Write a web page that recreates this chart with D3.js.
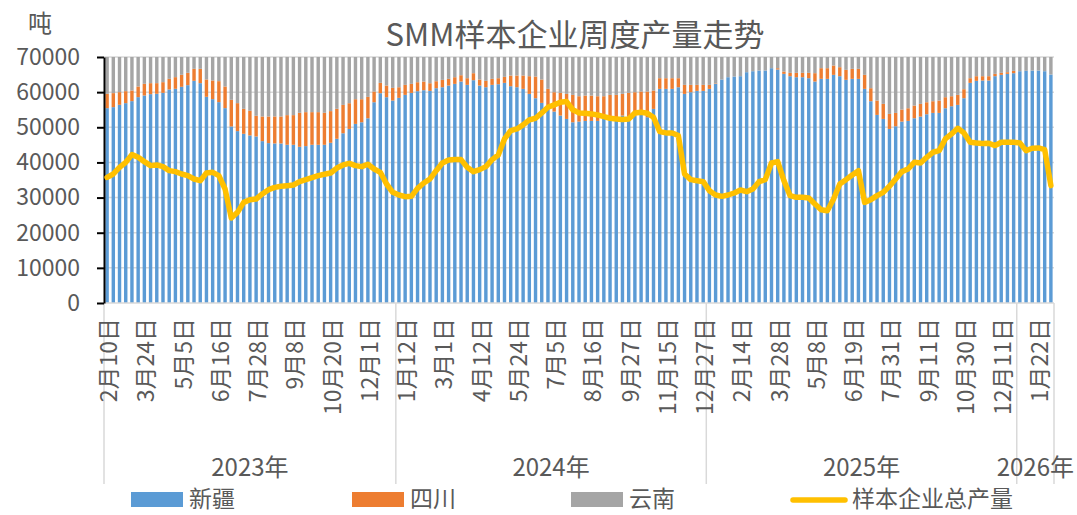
<!DOCTYPE html>
<html>
<head>
<meta charset="utf-8">
<script src="https://cdn.jsdelivr.net/npm/d3@7"></script>
<style>
  body { margin: 0; background: #fff; }
  svg text { font-family: "Noto Sans CJK SC", "Noto Sans", sans-serif; fill: #595959; }
</style>
</head>
<body>
<svg id="chart" width="1077" height="515"></svg>
<script>
// weekly values, tonnes
const xinjiang = [
  55450, 55730, 56400, 56870, 57440, 58580, 59050, 59430, 59530, 59810,
  60760, 60950, 61520, 61990, 63220, 62560, 58670, 58010, 57160, 55450,
  50240, 48910, 48150, 47680, 47390, 46060, 45500, 45400, 45400, 45020,
  45020, 44450, 44640, 45020, 45020, 45020, 45590, 46730, 48300, 49530,
  50960, 51430, 52570, 57130, 59700, 58560, 57610, 58370, 59220, 59790,
  60270, 60550, 60360, 61120, 61400, 61880, 62350, 63020, 62070, 63400,
  61880, 61400, 62070, 62260, 62640, 61690, 61400, 60930, 59500, 58270,
  56940, 55710, 54470, 53330, 52380, 51430, 51620, 51810, 51810, 51810,
  52380, 52380, 52380, 53330, 53140, 53330, 53810, 52860, 55230, 60930,
  60930, 60930, 61400, 59500, 59980, 60360, 60360, 60930, 62350, 63590,
  64250, 64440, 64540, 65680, 65960, 66150, 66150, 66820, 66440, 65200,
  64540, 64250, 64250, 63970, 63020, 63780, 63780, 64920, 64540, 63500,
  63780, 63780, 60930, 57420, 53520, 52380, 49530, 50290, 51620, 51810,
  52570, 53050, 53710, 54090, 54090, 55420, 55990, 56370, 58270, 62640,
  63210, 63310, 63310, 64540, 64920, 65200, 65390, 65960, 66060, 66150,
  66150, 65960, 65010
];
const sichuan = [
  4080, 3990, 3600, 3410, 3030, 3030, 3320, 3130, 3030, 3030,
  3030, 3320, 3410, 3510, 3420, 4080, 4930, 5310, 5970, 6160,
  7580, 7960, 7110, 7010, 5880, 7020, 7580, 7680, 7680, 8440,
  8440, 9670, 9670, 9290, 9290, 9100, 9010, 8530, 8070, 7320,
  7030, 6560, 6080, 3040, 2940, 3320, 3600, 3030, 2850, 2560,
  2560, 2470, 2180, 1990, 2090, 1900, 1900, 1800, 1900, 1990,
  1710, 1810, 1710, 1710, 1710, 3040, 3330, 3800, 5040, 6170,
  6650, 5220, 5510, 6460, 7130, 7790, 7220, 7220, 7220, 7030,
  6460, 6840, 6840, 6180, 6650, 6650, 6360, 7310, 5230, 3040,
  3040, 3040, 2570, 2570, 2090, 1710, 1710, 1140, 150, 0,
  0, 0, 0, 0, 0, 0, 0, 0, 380, 670,
  950, 1240, 1240, 1520, 2380, 3040, 3040, 2660, 2560, 2840,
  2850, 2850, 3990, 3700, 4090, 4280, 4280, 3800, 3420, 3610,
  3610, 3610, 3420, 3330, 3520, 3140, 2850, 2850, 2570, 1330,
  1330, 1230, 1230, 660, 570, 480, 670, 0, 0, 0,
  0, 0, 0
];
// top of the stack runs past the 70000 axis maximum and is cut off there
const yunnan = [
  20500, 20400, 20300, 20200, 20100, 20000, 19900, 19800, 19800, 19700,
  19600, 19600, 19500, 19500, 19400, 19400, 19300, 19300, 19200, 19200,
  19100, 19100, 19000, 19000, 19000, 18900, 18900, 18900, 18800, 18800,
  18800, 18700, 18700, 18700, 18600, 18600, 18600, 18500, 18500, 18500,
  18400, 18400, 18400, 18300, 18300, 18300, 18200, 18200, 18200, 18100,
  18100, 18100, 18000, 18000, 18000, 18000, 17900, 17900, 17900, 17900,
  17800, 17800, 17800, 17800, 17700, 17700, 17700, 17700, 17600, 17600,
  17600, 17600, 17500, 17500, 17500, 17500, 17500, 17400, 17400, 17400,
  17400, 17400, 17300, 17300, 17300, 17300, 17300, 17200, 17200, 17200,
  17200, 17200, 17100, 17100, 17100, 17100, 17100, 17000, 17000, 17000,
  17000, 17000, 17000, 16900, 16900, 16900, 16900, 16900, 16900, 16800,
  16800, 16800, 16800, 16800, 16800, 16700, 16700, 16700, 16700, 16700,
  16700, 16600, 16600, 16600, 16600, 16600, 16600, 16500, 16500, 16500,
  16500, 16500, 16500, 16500, 16400, 16400, 16400, 16400, 16400, 16400,
  16400, 16300, 16300, 16300, 16300, 16300, 16300, 16300, 16200, 16200,
  16200, 16200, 16200
];
const total = [
  35760, 36710, 38610, 40040, 42220, 41460, 40230, 39090, 39280, 38800,
  37660, 37380, 36710, 36240, 35290, 34810, 37000, 37190, 36240, 32440,
  24200, 25790, 28640, 29400, 29590, 31020, 32250, 32910, 33200, 33390,
  33580, 34530, 35100, 35670, 36240, 36620, 37000, 38400, 39280, 39750,
  39090, 38800, 39470, 38140, 37190, 33860, 31490, 30730, 30260, 30350,
  32630, 34150, 35290, 37660, 39850, 40700, 40800, 40800, 38610, 37380,
  37950, 38800, 40800, 42130, 46690, 49060, 49530, 50670, 52100, 52570,
  54090, 55710, 56370, 57130, 57320, 55000, 54090, 54000, 53810, 53520,
  53050, 52570, 52380, 52190, 52380, 54090, 54280, 54000, 52860, 48770,
  48400, 48400, 47640, 36710, 35100, 34810, 34530, 31970, 30730, 30350,
  30730, 31300, 32160, 31680, 32440, 34530, 35100, 39850, 40230, 34810,
  30540, 30070, 30070, 29880, 28160, 26550, 26270, 29590, 33860, 35100,
  36430, 37660, 28640, 29400, 30540, 31490, 33200, 35290, 37380, 38140,
  40040, 39850, 41460, 42890, 43360, 46690, 48110, 49720, 48400, 45740,
  45540, 45360, 45450, 44790, 45740, 45740, 45740, 45540, 43360, 44030,
  44120, 43650, 33390
];

// every 6th week carries a label
const tickLabels = [
  "2月10日", "3月24日", "5月5日", "6月16日", "7月28日", "9月8日", "10月20日", "12月1日",
  "1月12日", "3月1日", "4月12日", "5月24日", "7月5日", "8月16日", "9月27日", "11月15日",
  "12月27日", "2月14日", "3月28日", "5月8日", "6月19日", "7月31日", "9月11日", "10月30日",
  "12月11日", "1月22日"
];
const years = ["2023年", "2024年", "2025年", "2026年"];
const yearWeeks = [47, 50, 50, 6];
const yTicks = [0, 10000, 20000, 30000, 40000, 50000, 60000, 70000];

const seriesNames = ["新疆", "四川", "云南", "样本企业总产量"];
const colors = ["#5b9bd5", "#ed7d31", "#a5a5a5", "#ffc000"];

const LEFT = 104, RIGHT = 1054, TOP = 57, BOTTOM = 303;
const LABEL_STEP = 6;

const svg = d3.select("#chart");

const x = d3.scaleBand()
  .domain(d3.range(xinjiang.length))
  .range([LEFT, RIGHT])
  .paddingInner(0.45)
  .paddingOuter(0.225);
const y = d3.scaleLinear().domain([0, 70000]).range([BOTTOM, TOP]);
const step = x.step();
const mid = i => x(i) + x.bandwidth() / 2;

svg.append("defs").append("clipPath").attr("id", "plot-clip")
  .append("rect")
  .attr("x", LEFT).attr("y", TOP)
  .attr("width", RIGHT - LEFT).attr("height", BOTTOM - TOP);

// title and unit
svg.append("text")
  .attr("x", 575).attr("y", 32)
  .attr("text-anchor", "middle")
  .attr("dominant-baseline", "central")
  .style("font-size", "31px")
  .text("SMM样本企业周度产量走势");

svg.append("text")
  .attr("x", 40).attr("y", 21)
  .attr("text-anchor", "middle")
  .attr("dominant-baseline", "central")
  .style("font-size", "24px")
  .text("吨");

// gridlines
svg.append("g").selectAll("line")
  .data(yTicks.filter(t => t > 0))
  .enter().append("line")
  .attr("x1", LEFT).attr("x2", RIGHT)
  .attr("y1", d => y(d)).attr("y2", d => y(d))
  .attr("stroke", "#d9d9d9")
  .attr("stroke-width", 1.5);

// stacked bars
const rows = xinjiang.map((v, i) => ({ i: i, xj: v, sc: sichuan[i], yn: yunnan[i] }));
const stacked = d3.stack().keys(["xj", "sc", "yn"])(rows);

svg.append("g").attr("clip-path", "url(#plot-clip)")
  .selectAll("g")
  .data(stacked)
  .enter().append("g")
  .attr("fill", (d, k) => colors[k])
  .selectAll("rect")
  .data(d => d)
  .enter().append("rect")
  .attr("x", d => x(d.data.i))
  .attr("width", x.bandwidth())
  .attr("y", d => y(d[1]))
  .attr("height", d => Math.max(0, y(d[0]) - y(d[1])));

// category axis frame: baseline and year separators
svg.append("line")
  .attr("x1", LEFT).attr("x2", RIGHT)
  .attr("y1", BOTTOM).attr("y2", BOTTOM)
  .attr("stroke", "#d9d9d9").attr("stroke-width", 1.5);

const bounds = [0];
yearWeeks.forEach(n => bounds.push(bounds[bounds.length - 1] + n));

svg.append("g").selectAll("line")
  .data(bounds)
  .enter().append("line")
  .attr("x1", b => LEFT + b * step).attr("x2", b => LEFT + b * step)
  .attr("y1", BOTTOM).attr("y2", 484)
  .attr("stroke", "#d9d9d9").attr("stroke-width", 1.5);

svg.append("g").selectAll("text")
  .data(tickLabels)
  .enter().append("text")
  .attr("transform", (d, k) => "translate(" + mid(k * LABEL_STEP) + ",318) rotate(-90)")
  .attr("text-anchor", "end")
  .attr("dominant-baseline", "central")
  .style("font-size", "23px")
  .text(d => d);

svg.append("g").selectAll("text")
  .data(years)
  .enter().append("text")
  .attr("x", (d, k) => LEFT + (bounds[k] + bounds[k + 1]) / 2 * step)
  .attr("y", 465)
  .attr("text-anchor", "middle")
  .attr("dominant-baseline", "central")
  .style("font-size", "24px")
  .text(d => d);

// value axis
const yAxis = svg.append("g")
  .attr("transform", "translate(" + LEFT + ",0)")
  .call(d3.axisLeft(y).tickValues(yTicks).tickFormat(d3.format("d")).tickSize(7).tickSizeOuter(0).tickPadding(17));
yAxis.select(".domain").attr("stroke", "#000").attr("stroke-width", 2);
yAxis.selectAll(".tick line").attr("stroke", "#000").attr("stroke-width", 2);
yAxis.selectAll(".tick text")
  .attr("fill", "#595959")
  .style("font-size", "23px")
  .style("font-family", "\"Noto Sans CJK SC\", sans-serif");

// total production line
svg.append("path")
  .datum(total)
  .attr("fill", "none")
  .attr("stroke", colors[3])
  .attr("stroke-width", 5.5)
  .attr("stroke-linejoin", "round")
  .attr("stroke-linecap", "round")
  .attr("d", d3.line().x((d, i) => mid(i)).y(d => y(d)));

// legend
const legendX = [131, 352, 571, 791];
const legend = svg.append("g").selectAll("g")
  .data(seriesNames)
  .enter().append("g")
  .attr("transform", (d, k) => "translate(" + legendX[k] + ",497)");

legend.filter((d, k) => k < 3).append("rect")
  .attr("x", 0).attr("y", -5)
  .attr("width", 52).attr("height", 15)
  .attr("fill", (d, k) => colors[k]);

legend.filter((d, k) => k === 3).append("line")
  .attr("x1", 2).attr("x2", 54)
  .attr("y1", 3).attr("y2", 3)
  .attr("stroke", colors[3])
  .attr("stroke-width", 5.5)
  .attr("stroke-linecap", "round");

legend.append("text")
  .attr("x", (d, k) => k === 3 ? 61 : 58)
  .attr("y", 0)
  .attr("dominant-baseline", "central")
  .style("font-size", "23px")
  .text(d => d);
</script>
</body>
</html>
